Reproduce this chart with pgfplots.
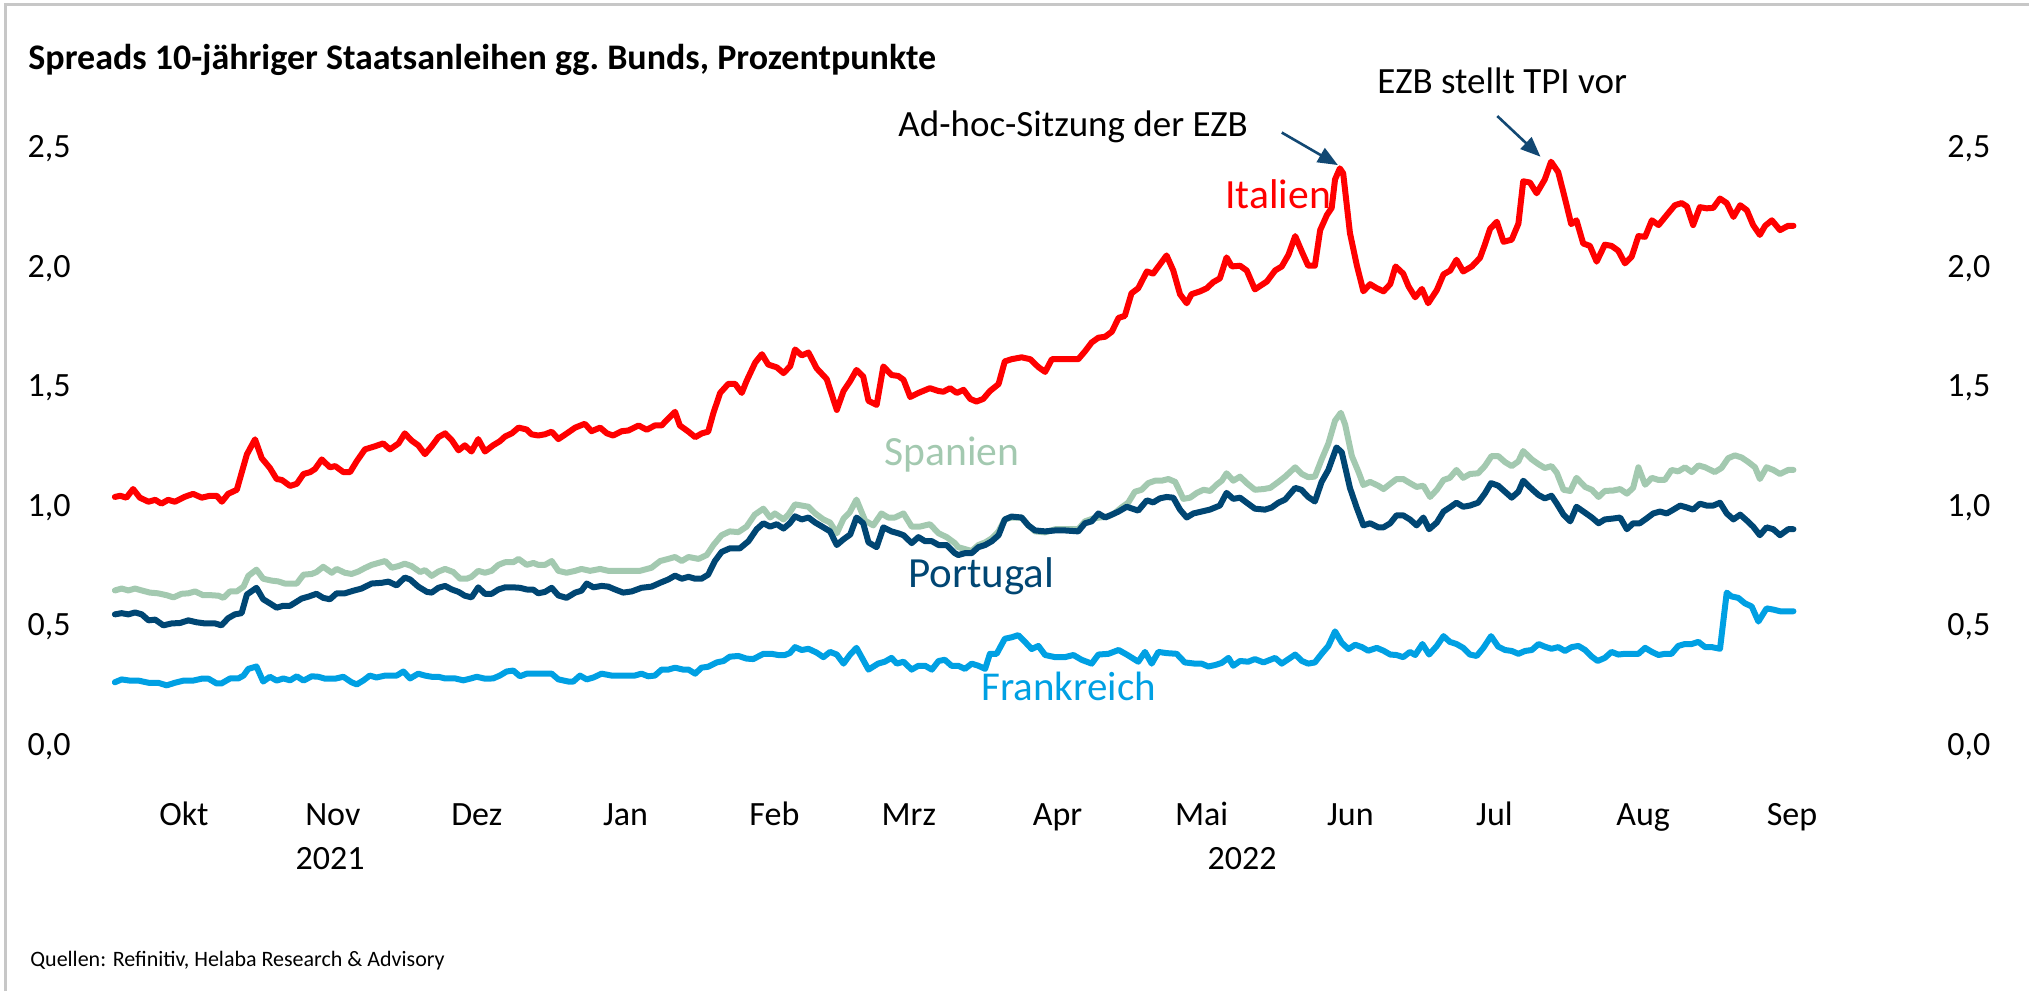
\documentclass[border=0pt]{standalone}
\usepackage{pgfplots}
\pgfplotsset{compat=1.18}
\usepackage{pgfplotstable}
\usepackage{fontspec}
\setmainfont{Carlito}
\usetikzlibrary{arrows.meta}
\definecolor{itred}{RGB}{255,0,0}
\definecolor{esgreen}{RGB}{163,201,176}
\definecolor{ptblue}{RGB}{0,70,115}
\definecolor{frblue}{RGB}{0,160,227}
\definecolor{arrowblue}{RGB}{18,72,115}

\pgfplotstableread{
day val
-14.4 1.044
-13.3 1.049
-12.0 1.041
-10.6 1.077
-9.2 1.041
-7.4 1.024
-6.0 1.032
-4.7 1.016
-3.3 1.032
-1.9 1.024
0.2 1.045
1.9 1.057
3.7 1.041
5.4 1.049
6.8 1.049
7.9 1.024
9.2 1.057
11.0 1.074
13.1 1.222
14.8 1.285
16.2 1.206
17.9 1.165
19.3 1.119
20.4 1.115
22.1 1.090
23.5 1.099
24.9 1.140
26.3 1.148
27.3 1.161
28.7 1.201
30.4 1.168
31.5 1.173
33.2 1.148
34.6 1.148
36.0 1.194
37.7 1.243
39.8 1.256
41.5 1.268
42.9 1.243
44.7 1.268
46.0 1.310
47.4 1.280
48.8 1.260
50.2 1.223
51.6 1.256
53.0 1.294
54.4 1.310
55.8 1.281
57.2 1.239
58.5 1.260
59.9 1.234
61.3 1.286
62.7 1.234
64.4 1.260
65.8 1.277
66.9 1.297
68.3 1.310
69.7 1.334
71.4 1.326
72.4 1.306
73.8 1.301
75.2 1.306
76.6 1.317
78.0 1.286
79.7 1.309
81.5 1.334
83.5 1.350
84.9 1.319
86.7 1.334
88.1 1.310
89.4 1.301
91.2 1.319
92.6 1.322
94.7 1.343
96.4 1.325
98.1 1.343
99.5 1.343
100.9 1.372
102.3 1.400
103.3 1.343
105.1 1.317
106.5 1.294
107.9 1.310
109.2 1.317
110.3 1.396
111.7 1.479
113.4 1.517
114.8 1.517
116.2 1.479
117.2 1.529
119.0 1.606
120.4 1.641
121.7 1.598
123.5 1.586
124.9 1.562
126.3 1.591
127.3 1.661
128.7 1.636
130.1 1.648
131.8 1.582
133.9 1.537
136.0 1.408
137.4 1.487
138.8 1.529
140.1 1.575
141.5 1.548
142.6 1.446
144.3 1.429
145.7 1.590
147.4 1.554
148.8 1.550
149.9 1.534
151.3 1.462
153.0 1.479
155.4 1.499
157.2 1.487
158.2 1.484
159.6 1.499
161.0 1.479
162.4 1.492
163.8 1.454
165.1 1.443
166.5 1.454
167.9 1.487
169.7 1.516
171.0 1.611
172.4 1.620
174.5 1.628
176.3 1.620
178.0 1.587
179.4 1.567
180.8 1.620
182.5 1.620
184.6 1.620
186.3 1.620
187.7 1.653
189.1 1.690
190.5 1.710
191.9 1.714
193.3 1.735
194.7 1.793
196.0 1.801
197.4 1.896
198.8 1.917
200.6 1.987
201.9 1.978
203.3 2.016
204.7 2.054
206.1 1.991
207.5 1.892
208.9 1.854
209.9 1.892
211.7 1.904
213.1 1.917
214.4 1.942
215.8 1.958
217.2 2.046
218.3 2.008
220.0 2.011
221.4 1.991
223.1 1.912
225.6 1.945
227.3 1.991
228.7 2.008
230.1 2.057
231.5 2.135
232.9 2.069
234.2 2.011
235.6 2.011
236.7 2.160
238.1 2.223
239.1 2.253
239.8 2.372
240.8 2.418
241.5 2.397
242.9 2.148
244.3 2.016
245.7 1.904
247.1 1.934
248.5 1.917
249.9 1.904
251.3 1.934
252.4 2.008
254.0 1.978
255.1 1.925
256.5 1.879
257.9 1.914
259.2 1.854
261.0 1.909
262.4 1.975
263.8 1.991
265.1 2.036
266.5 1.987
268.3 2.008
270.0 2.044
271.0 2.099
272.1 2.165
273.5 2.195
274.9 2.111
276.6 2.120
278.0 2.187
279.0 2.364
280.4 2.359
281.8 2.314
283.5 2.372
284.8 2.446
286.3 2.402
287.7 2.292
289.0 2.185
290.1 2.201
291.5 2.104
292.9 2.094
294.3 2.028
296.0 2.099
297.4 2.094
298.8 2.074
300.2 2.021
301.6 2.049
303.0 2.135
304.4 2.132
305.8 2.201
307.2 2.181
308.9 2.223
310.6 2.264
312.0 2.273
313.1 2.259
314.4 2.181
315.8 2.256
317.2 2.251
318.6 2.253
320.0 2.292
321.4 2.273
322.8 2.215
324.2 2.264
325.6 2.243
326.9 2.181
328.3 2.140
329.4 2.178
330.8 2.201
332.5 2.160
334.2 2.178
335.3 2.178
}\itdata

\pgfplotstableread{
day val
-14.4 0.653
-13.0 0.661
-11.6 0.653
-10.2 0.661
-8.8 0.653
-7.1 0.644
-5.4 0.641
-3.6 0.633
-2.2 0.624
-0.5 0.639
0.9 0.641
2.3 0.649
4.0 0.633
5.8 0.633
7.2 0.631
8.2 0.622
9.6 0.649
11.0 0.649
12.4 0.669
13.4 0.714
15.1 0.740
16.5 0.702
18.3 0.694
19.6 0.691
21.0 0.682
23.5 0.682
24.9 0.719
26.6 0.722
27.6 0.730
29.0 0.752
30.8 0.727
31.8 0.743
33.5 0.727
34.9 0.722
36.3 0.732
37.7 0.747
39.1 0.760
40.5 0.768
41.9 0.776
43.3 0.748
44.7 0.755
46.0 0.765
47.4 0.755
49.2 0.730
50.2 0.738
51.6 0.714
53.0 0.732
54.4 0.743
56.1 0.730
57.5 0.702
58.9 0.702
59.9 0.710
61.3 0.735
62.7 0.727
64.1 0.735
65.5 0.760
66.9 0.771
68.6 0.771
69.7 0.785
71.4 0.760
72.8 0.768
73.8 0.760
75.2 0.760
76.6 0.776
78.0 0.735
79.7 0.727
81.5 0.735
82.8 0.743
84.6 0.735
86.7 0.743
88.4 0.735
91.2 0.735
93.3 0.735
95.0 0.735
97.4 0.748
99.2 0.776
100.9 0.785
102.3 0.793
103.7 0.776
105.1 0.793
107.2 0.785
108.9 0.801
110.3 0.843
112.0 0.884
113.7 0.900
115.5 0.897
117.2 0.920
118.9 0.970
120.7 0.995
122.1 0.958
123.1 0.975
124.9 0.950
125.9 0.970
127.3 1.013
128.7 1.008
130.1 1.003
131.5 0.975
133.2 0.950
134.6 0.937
136.0 0.892
137.4 0.953
138.7 0.980
140.1 1.033
141.9 0.945
143.6 0.925
145.3 0.975
146.7 0.958
148.1 0.958
149.9 0.975
151.6 0.920
153.3 0.920
155.4 0.930
157.2 0.892
158.9 0.876
160.6 0.851
161.3 0.834
162.7 0.826
164.1 0.818
165.5 0.843
166.9 0.854
168.3 0.871
169.7 0.900
171.0 0.950
172.4 0.958
174.5 0.958
175.9 0.925
177.3 0.900
179.4 0.896
181.5 0.909
183.5 0.909
186.3 0.909
187.7 0.942
189.4 0.954
190.8 0.958
192.6 0.963
194.0 0.978
195.3 1.000
196.7 1.020
198.1 1.066
199.5 1.074
200.9 1.102
202.3 1.112
203.7 1.112
205.1 1.119
206.5 1.107
208.2 1.036
209.6 1.041
211.0 1.061
212.4 1.074
213.8 1.069
215.1 1.095
216.2 1.112
217.2 1.143
218.6 1.112
220.0 1.129
221.4 1.102
223.1 1.074
224.9 1.077
226.3 1.082
228.0 1.107
229.4 1.129
231.5 1.168
232.9 1.140
234.2 1.127
235.6 1.129
237.0 1.201
238.4 1.267
239.8 1.363
241.0 1.396
241.9 1.347
243.3 1.215
244.7 1.148
245.7 1.094
247.1 1.107
248.8 1.091
249.9 1.077
251.3 1.099
252.6 1.119
254.0 1.119
255.4 1.102
256.8 1.086
258.2 1.091
259.6 1.044
261.0 1.074
262.4 1.115
263.7 1.124
265.1 1.157
266.5 1.124
267.9 1.140
269.6 1.143
271.0 1.173
272.4 1.215
273.8 1.215
275.2 1.190
276.6 1.173
278.0 1.193
279.0 1.236
280.8 1.201
282.2 1.181
283.5 1.165
284.9 1.173
286.0 1.145
287.4 1.074
288.8 1.069
290.1 1.124
291.9 1.086
293.3 1.074
294.7 1.044
296.0 1.069
297.8 1.071
299.2 1.077
300.6 1.058
301.9 1.082
303.0 1.168
304.4 1.095
305.8 1.124
307.2 1.115
308.5 1.115
309.9 1.157
311.3 1.151
312.7 1.168
314.1 1.148
315.5 1.176
316.9 1.168
318.9 1.148
320.3 1.165
321.7 1.206
323.1 1.218
324.5 1.209
325.9 1.190
327.3 1.168
328.3 1.119
329.7 1.168
331.1 1.157
332.5 1.140
334.2 1.157
335.3 1.157
}\esdata

\pgfplotstableread{
day val
-14.4 0.553
-13.0 0.558
-11.6 0.553
-10.2 0.561
-8.8 0.553
-7.4 0.528
-6.0 0.531
-4.3 0.507
-2.6 0.515
-0.8 0.517
0.9 0.528
2.6 0.520
4.4 0.515
6.5 0.515
7.8 0.507
9.2 0.537
10.6 0.553
12.0 0.558
13.1 0.636
15.1 0.664
16.5 0.616
17.9 0.599
19.3 0.581
20.7 0.589
22.1 0.589
24.5 0.619
25.9 0.627
27.6 0.639
29.0 0.622
30.4 0.616
31.8 0.641
33.5 0.641
35.3 0.652
37.0 0.661
39.1 0.682
41.2 0.685
42.6 0.690
44.3 0.674
46.0 0.707
47.1 0.699
48.8 0.669
50.6 0.647
51.6 0.644
53.0 0.664
54.4 0.672
55.8 0.657
57.2 0.647
58.5 0.631
59.9 0.624
61.3 0.666
62.7 0.639
64.1 0.639
65.5 0.657
66.9 0.666
68.6 0.666
70.0 0.664
71.4 0.657
72.8 0.656
73.8 0.641
75.2 0.647
76.6 0.664
78.0 0.632
79.7 0.622
81.5 0.644
82.8 0.652
83.9 0.682
85.3 0.666
87.0 0.672
88.4 0.669
89.8 0.657
91.5 0.644
93.3 0.649
95.3 0.664
97.4 0.669
99.2 0.685
100.9 0.699
102.3 0.715
103.7 0.702
105.1 0.710
106.5 0.702
107.8 0.702
109.2 0.719
110.6 0.776
112.0 0.814
113.7 0.829
115.8 0.829
117.6 0.859
119.3 0.909
120.7 0.934
122.1 0.920
123.5 0.930
124.9 0.912
126.2 0.934
127.3 0.963
128.7 0.950
130.1 0.958
131.5 0.937
133.2 0.917
134.6 0.900
136.0 0.843
137.4 0.867
138.8 0.887
140.1 0.958
141.5 0.934
142.6 0.854
144.3 0.834
145.7 0.917
147.4 0.900
148.8 0.892
149.9 0.884
151.6 0.851
153.0 0.876
154.4 0.859
155.8 0.859
157.2 0.843
158.9 0.843
160.6 0.809
161.3 0.801
162.7 0.809
164.1 0.809
165.5 0.834
166.9 0.843
168.3 0.859
169.7 0.884
171.0 0.950
172.4 0.962
174.5 0.958
175.9 0.925
177.3 0.904
179.4 0.900
181.5 0.904
183.5 0.904
186.3 0.900
187.7 0.934
189.1 0.942
190.5 0.975
191.9 0.958
193.3 0.970
194.7 0.983
196.4 1.003
198.8 0.987
200.6 1.030
201.9 1.021
203.3 1.038
204.7 1.044
206.1 1.041
207.5 0.991
208.9 0.958
210.3 0.975
212.0 0.983
213.7 0.991
215.8 1.008
217.2 1.061
218.6 1.036
220.0 1.041
221.4 1.020
223.1 0.995
225.2 0.991
226.6 1.000
228.0 1.020
229.4 1.033
231.5 1.082
232.8 1.074
234.2 1.044
235.6 1.025
237.0 1.107
238.4 1.157
240.1 1.251
241.2 1.231
242.9 1.082
244.3 1.000
245.7 0.925
247.1 0.934
248.8 0.917
249.9 0.917
251.3 0.934
252.6 0.967
254.0 0.967
255.4 0.950
256.8 0.925
258.2 0.958
259.4 0.909
261.0 0.937
262.4 0.983
263.7 1.000
265.1 1.020
266.5 1.003
267.9 1.008
269.6 1.020
271.0 1.058
272.3 1.102
273.8 1.091
275.2 1.066
276.6 1.041
278.0 1.066
279.0 1.112
280.8 1.077
282.2 1.052
283.5 1.038
284.9 1.049
286.0 1.016
287.4 0.970
288.8 0.942
290.1 1.003
291.9 0.978
293.3 0.958
294.7 0.934
296.0 0.950
297.8 0.954
299.2 0.958
300.6 0.909
301.9 0.934
303.3 0.934
304.7 0.954
306.1 0.975
307.5 0.983
308.9 0.975
310.3 0.991
311.7 1.008
313.1 1.000
314.4 0.991
315.8 1.016
317.2 1.008
318.6 1.008
320.0 1.020
321.4 0.975
322.8 0.950
324.2 0.970
325.6 0.945
326.9 0.920
328.3 0.884
329.7 0.917
331.1 0.909
332.5 0.884
334.2 0.909
335.3 0.909
}\ptdata

\pgfplotstableread{
day val
-14.4 0.269
-13.0 0.281
-11.3 0.276
-9.5 0.276
-7.4 0.267
-5.4 0.267
-3.6 0.256
-1.9 0.267
-0.1 0.276
1.9 0.276
3.7 0.284
5.1 0.284
6.8 0.264
7.8 0.264
9.6 0.285
11.3 0.285
12.4 0.297
13.4 0.325
15.1 0.335
16.5 0.272
17.9 0.292
19.3 0.276
20.7 0.285
22.1 0.277
23.5 0.294
24.9 0.276
26.6 0.294
28.0 0.292
29.4 0.284
31.5 0.284
33.2 0.292
34.9 0.269
36.0 0.260
37.4 0.277
38.7 0.297
40.1 0.289
41.9 0.297
44.3 0.297
45.7 0.314
47.1 0.285
48.8 0.305
50.2 0.297
51.6 0.292
53.0 0.292
54.4 0.285
56.5 0.285
58.2 0.277
59.6 0.284
61.0 0.292
62.7 0.284
64.4 0.285
65.8 0.297
67.2 0.314
68.6 0.318
70.0 0.294
71.4 0.305
72.8 0.305
75.2 0.305
76.6 0.305
78.0 0.281
80.1 0.272
81.1 0.272
82.5 0.297
83.9 0.281
85.3 0.289
87.0 0.305
89.1 0.297
91.9 0.297
93.9 0.297
95.3 0.305
96.7 0.294
98.1 0.297
99.5 0.322
100.9 0.322
102.3 0.330
104.0 0.322
105.1 0.322
106.5 0.305
107.8 0.330
109.2 0.334
111.0 0.352
112.4 0.358
113.7 0.376
115.5 0.379
117.2 0.368
118.6 0.366
120.7 0.388
122.4 0.388
123.8 0.383
125.2 0.383
126.2 0.391
127.3 0.416
128.7 0.404
130.1 0.409
131.8 0.393
133.2 0.374
134.6 0.396
136.0 0.385
137.4 0.347
138.7 0.383
140.1 0.413
142.6 0.322
144.6 0.347
146.0 0.355
147.4 0.371
148.5 0.347
149.9 0.355
151.6 0.322
153.0 0.338
154.4 0.338
155.8 0.322
157.2 0.358
158.5 0.363
159.9 0.338
161.3 0.338
162.7 0.325
164.1 0.347
165.5 0.338
166.9 0.325
167.9 0.388
169.3 0.388
171.0 0.451
172.4 0.457
173.8 0.466
175.2 0.438
176.6 0.408
178.0 0.421
179.4 0.383
181.5 0.374
183.5 0.374
185.3 0.383
187.0 0.363
189.1 0.347
190.5 0.385
192.6 0.388
194.7 0.404
196.4 0.385
198.8 0.355
200.2 0.396
201.6 0.347
203.0 0.396
204.7 0.391
206.8 0.388
208.5 0.352
210.6 0.347
212.0 0.347
213.4 0.335
214.8 0.341
216.2 0.350
217.6 0.371
218.6 0.338
220.0 0.358
221.7 0.355
223.1 0.366
224.9 0.352
227.3 0.371
228.7 0.347
230.1 0.366
231.5 0.385
232.9 0.358
234.2 0.347
235.6 0.352
237.0 0.388
238.4 0.421
239.8 0.482
241.2 0.434
242.6 0.408
244.0 0.426
245.4 0.416
246.7 0.401
248.5 0.413
249.9 0.401
251.3 0.385
252.6 0.383
254.0 0.374
255.4 0.396
256.5 0.383
258.0 0.429
259.4 0.385
261.0 0.421
262.4 0.462
263.7 0.438
265.1 0.429
266.5 0.413
267.9 0.385
269.3 0.379
270.7 0.413
272.3 0.462
273.8 0.418
275.2 0.404
276.6 0.400
278.0 0.388
279.4 0.400
280.8 0.404
282.2 0.429
283.5 0.418
284.9 0.409
286.3 0.416
287.7 0.400
289.1 0.416
290.5 0.421
291.9 0.404
293.3 0.376
294.5 0.358
296.0 0.371
297.4 0.396
298.8 0.385
300.2 0.388
303.0 0.388
304.4 0.413
305.8 0.396
307.2 0.383
308.5 0.388
309.9 0.388
311.3 0.421
312.7 0.429
314.1 0.429
315.5 0.438
316.9 0.416
318.3 0.416
320.0 0.409
321.4 0.644
322.4 0.628
323.8 0.622
325.2 0.599
326.6 0.586
328.0 0.523
329.7 0.578
331.1 0.573
332.5 0.566
334.2 0.566
335.3 0.566
}\frdata

\begin{document}
\begin{tikzpicture}
\begin{scope}[x=0.5pt,y=0.5pt]
\useasboundingbox (0,0) rectangle (2029,991);
\draw[black!22, line width=1.5pt] (5,0) -- (5,986) -- (2029,986);
\end{scope}

\begin{axis}[
  at={(56pt,122.2pt)}, anchor=south west, scale only axis,
  width=842.4pt, height=298.9pt,
  xmin=-15, xmax=336, ymin=0, ymax=2.5,
  axis line style={draw=none}, major tick length=0pt,
  xtick={0,31,61,92,123,151,182,212,243,273,304,335},
  xticklabels={Okt,Nov,Dez,Jan,Feb,Mrz,Apr,Mai,Jun,Jul,Aug,Sep},
  ytick={0,0.5,1,1.5,2,2.5},
  yticklabels={{0,0},{0,5},{1,0},{1,5},{2,0},{2,5}},
  tick label style={font=\fontsize{17}{20}\selectfont, inner sep=0pt},
  xticklabel style={anchor=base, yshift=-39.2pt},
  yticklabel style={anchor=east, xshift=-20.5pt},
  clip=false,
  every axis plot/.append style={line width=3pt, line join=round, line cap=round, mark=none},
]
\addplot[color=itred] table[x=day,y=val]{\itdata};
\addplot[color=esgreen] table[x=day,y=val]{\esdata};
\addplot[color=ptblue] table[x=day,y=val]{\ptdata};
\addplot[color=frblue] table[x=day,y=val]{\frdata};
\draw[arrowblue, line width=1.3pt, -{Triangle[length=10pt,width=8pt]}] (axis cs:228.7,2.568) -- (axis cs:240.4,2.432);
\draw[arrowblue, line width=1.3pt, -{Triangle[length=10pt,width=8pt]}] (axis cs:273.6,2.637) -- (axis cs:282.6,2.467);
\end{axis}

\begin{axis}[
  at={(56pt,122.2pt)}, anchor=south west, scale only axis,
  width=842.4pt, height=298.9pt,
  xmin=-15, xmax=336, ymin=0, ymax=2.5,
  axis line style={draw=none}, major tick length=0pt,
  xtick=\empty, yticklabel pos=right,
  ytick={0,0.5,1,1.5,2,2.5},
  yticklabels={{0,0},{0,5},{1,0},{1,5},{2,0},{2,5}},
  tick label style={font=\fontsize{17}{20}\selectfont, inner sep=0pt},
  yticklabel style={anchor=west, xshift=75.1pt},
]
\addplot[draw=none] coordinates {(0,0)};
\end{axis}

\begin{scope}[x=0.5pt,y=0.5pt]
\node[anchor=base west, inner sep=0pt, font=\bfseries\fontsize{18}{22}\selectfont] at (28,921) {Spreads 10-jähriger Staatsanleihen gg.\ Bunds, Prozentpunkte};
\node[anchor=base west, inner sep=0pt, font=\fontsize{18.5}{22}\selectfont] at (898,854) {Ad-hoc-Sitzung der EZB};
\node[anchor=base west, inner sep=0pt, font=\fontsize{18.5}{22}\selectfont] at (1377,897) {EZB stellt TPI vor};
\node[anchor=base west, inner sep=0pt, text=itred, font=\fontsize{20.8}{24}\selectfont] at (1225,782) {Italien};
\node[anchor=base west, inner sep=0pt, text=esgreen, font=\fontsize{20.8}{24}\selectfont] at (884,525) {Spanien};
\node[anchor=base west, inner sep=0pt, text=ptblue, font=\fontsize{21.5}{24}\selectfont] at (908,403) {Portugal};
\node[anchor=base west, inner sep=0pt, text=frblue, font=\fontsize{20.5}{24}\selectfont] at (981,290) {Frankreich};
\node[anchor=base, inner sep=0pt, font=\fontsize{17}{20}\selectfont] at (330,122) {2021};
\node[anchor=base, inner sep=0pt, font=\fontsize{17}{20}\selectfont] at (1242,122) {2022};
\node[anchor=base west, inner sep=0pt, font=\fontsize{11}{13}\selectfont] at (30,25) {Quellen: Refinitiv, Helaba Research \& Advisory};
\end{scope}
\end{tikzpicture}
\end{document}
